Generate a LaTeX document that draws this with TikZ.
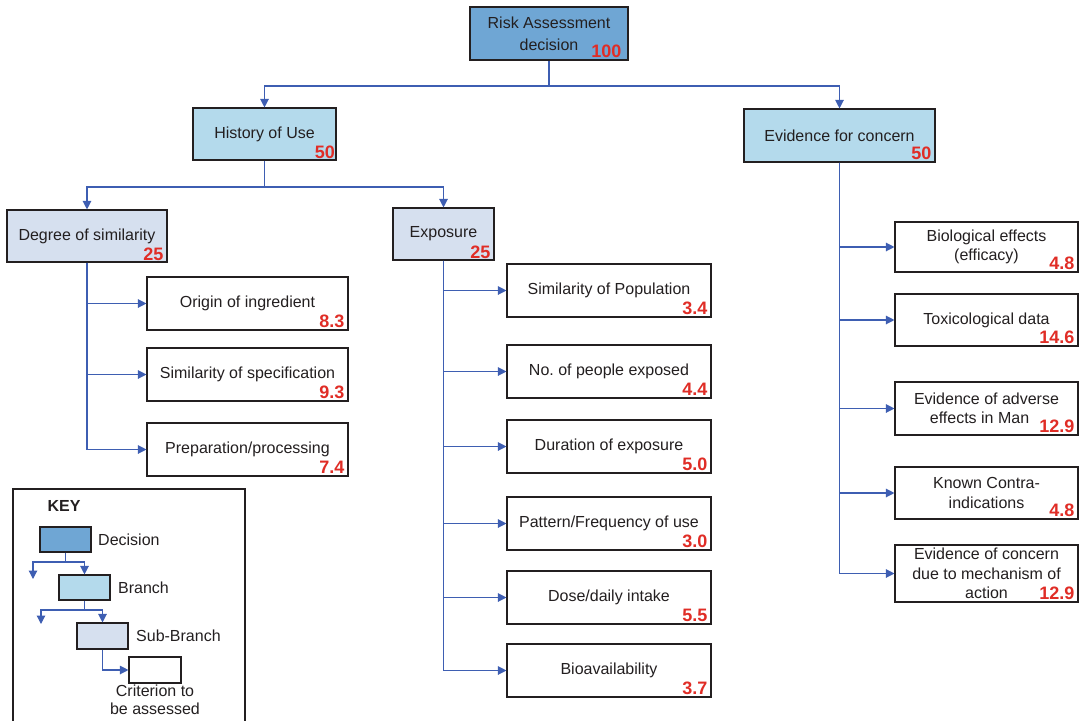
\documentclass[tikz,border=0pt]{standalone}
\usepackage{fontspec}
\setmainfont{Liberation Sans}
\usetikzlibrary{arrows.meta}
\frenchspacing
\definecolor{decfill}{RGB}{111,166,212}
\definecolor{brfill}{RGB}{180,218,236}
\definecolor{subfill}{RGB}{214,224,239}
\definecolor{connc}{RGB}{62,94,178}
\definecolor{numred}{RGB}{224,45,38}
\definecolor{bord}{RGB}{35,31,32}
\definecolor{txt}{RGB}{35,31,32}
\begin{document}
\begin{tikzpicture}[x=1pt,y=-1pt,
  box/.style={draw=bord, line width=1.1pt, inner sep=0pt, align=center, text=txt,
    font=\fontsize{16}{19.5}\selectfont},
  decbox/.style={box, fill=decfill},
  brbox/.style={box, fill=brfill},
  subbox/.style={box, fill=subfill},
  critbox/.style={box, fill=white, minimum width=201pt, minimum height=53pt},
  rcrit/.style={box, fill=white, minimum width=183pt},
  num/.style={anchor=south east, inner xsep=4pt, inner ysep=3pt, text=numred, font=\fontsize{18}{18}\selectfont\bfseries},
  conn/.style={draw=connc, line width=1.2pt},
  arr/.style={conn, -{Triangle[length=8.5pt,width=8.5pt]}},
  keytxt/.style={anchor=west, inner sep=0pt, text=txt, font=\fontsize{16}{18}\selectfont}
]
\useasboundingbox (0,0) rectangle (1084,720);

% top level
\node[decbox, minimum width=158pt, minimum height=53pt, font=\fontsize{16}{22}\selectfont] (risk) at (549,33.5) {Risk Assessment\\decision};
\node[num, inner xsep=7pt] at (risk.south east) {100};

\node[brbox, minimum width=143pt, minimum height=52pt] (hist) at (264.5,134) {History of Use};
\node[num, inner xsep=1.5pt, inner ysep=2pt] at (hist.south east) {50};
\node[brbox, minimum width=191pt, minimum height=53pt] (evid) at (839.5,135.5) {Evidence for concern};
\node[num] at (evid.south east) {50};

\coordinate (j1) at (549,86);
\draw[arr] (risk.south) -- (j1) -| (hist.north);
\draw[arr] (j1) -| (evid.north);

% sub-branches
\node[subbox, minimum width=160pt, minimum height=52pt] (deg) at (87,236) {Degree of similarity};
\node[num, inner ysep=2pt] at (deg.south east) {25};
\node[subbox, minimum width=101pt, minimum height=52pt] (expo) at (443.5,234) {Exposure};
\node[num, inner ysep=2pt] at (expo.south east) {25};

\coordinate (j2) at (264.5,187);
\draw[arr] (hist.south) -- (j2) -| (deg.north);
\draw[arr] (j2) -| (expo.north);

% degree of similarity criteria
\node[critbox] (d1) at (247.5,303.5) {Origin of ingredient};
\node[num] at (d1.south east) {8.3};
\node[critbox] (d2) at (247.5,374.5) {Similarity of specification};
\node[num] at (d2.south east) {9.3};
\node[critbox] (d3) at (247.5,449.5) {Preparation/processing};
\node[num] at (d3.south east) {7.4};
\foreach \n in {d1,d2,d3} \draw[arr] (deg.south) |- (\n.west);

% exposure criteria
\node[critbox, minimum width=204pt] (e1) at (609,290.5) {Similarity of Population};
\node[num] at (e1.south east) {3.4};
\node[critbox, minimum width=204pt] (e2) at (609,371.5) {No.\ of people exposed};
\node[num] at (e2.south east) {4.4};
\node[critbox, minimum width=204pt] (e3) at (609,446.5) {Duration of exposure};
\node[num] at (e3.south east) {5.0};
\node[critbox, minimum width=204pt] (e4) at (609,523.5) {Pattern/Frequency of use};
\node[num] at (e4.south east) {3.0};
\node[critbox, minimum width=204pt] (e5) at (609,597.5) {Dose/daily intake};
\node[num] at (e5.south east) {5.5};
\node[critbox, minimum width=204pt] (e6) at (609,670.5) {Bioavailability};
\node[num] at (e6.south east) {3.7};
\foreach \n in {e1,e2,e3,e4,e5,e6} \draw[arr] (expo.south) |- (\n.west);

% evidence criteria
\node[rcrit, minimum height=50pt] (v1) at (986.5,247) {Biological effects\\(efficacy)};
\node[num] at (v1.south east) {4.8};
\node[rcrit, minimum height=52pt] (v2) at (986.5,320) {Toxicological data};
\node[num] at (v2.south east) {14.6};
\node[rcrit, minimum height=53pt] (v3) at (986.5,408.5) {Evidence of adverse\\effects in Man\hspace*{14pt}};
\node[num] at (v3.south east) {12.9};
\node[rcrit, minimum height=52pt] (v4) at (986.5,493) {Known Contra-\\indications};
\node[num] at (v4.south east) {4.8};
\node[rcrit, minimum height=57pt] (v5) at (986.5,573.5) {Evidence of concern\\due to mechanism of\\action};
\node[num] at (v5.south east) {12.9};
\foreach \n in {v1,v2,v3,v4,v5} \draw[arr] (evid.south) |- (\n.west);

% KEY
\draw[draw=bord, line width=1.1pt] (13,724) -- (13,489) -- (245,489) -- (245,724);
\node[anchor=center, inner sep=0pt, text=txt, font=\fontsize{16}{18}\selectfont\bfseries] (keyt) at (64,506) {KEY};
\node[decbox, minimum width=51pt, minimum height=25pt] (kdec) at (65.5,539.5) {};
\node[keytxt] (kdecl) at (98,540) {Decision};
\node[brbox, minimum width=51pt, minimum height=25pt] (kbr) at (84.5,587.5) {};
\node[keytxt] (kbrl) at (118,588) {Branch};
\node[subbox, minimum width=51pt, minimum height=26pt] (ksub) at (102.5,636) {};
\node[keytxt] (ksubl) at (136,636) {Sub-Branch};
\node[box, fill=white, minimum width=52pt, minimum height=26pt] (kcrit) at (155,670) {};
\node[anchor=north, inner sep=0pt, align=center, text=txt, font=\fontsize{16}{18}\selectfont] (kcritl) at (155,685) {Criterion to\\be assessed};

\coordinate (kj1) at (65.5,562);
\coordinate (kl1) at (33,579);
\draw[arr] (kdec.south) -- (kj1) -| (kl1);
\draw[arr] (kj1) -| (kbr.north);
\coordinate (kj2) at (84.5,610);
\coordinate (kl2) at (41,624);
\draw[arr] (kbr.south) -- (kj2) -| (kl2);
\draw[arr] (kj2) -| (ksub.north);
\draw[arr] (ksub.south) |- (kcrit.west);
\end{tikzpicture}
\end{document}
